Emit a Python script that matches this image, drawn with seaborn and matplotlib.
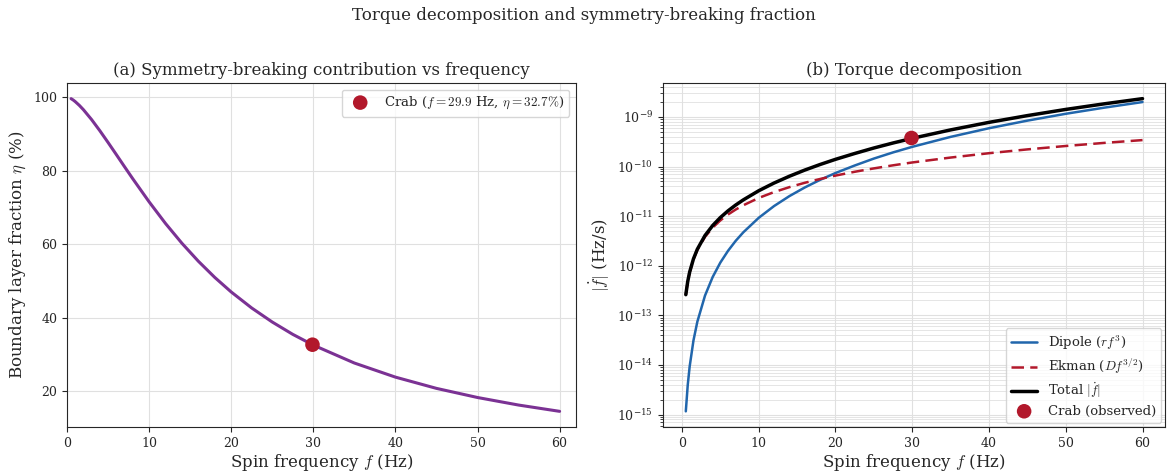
import seaborn as sns
import matplotlib
matplotlib.use('Agg')
import matplotlib.pyplot as plt
import numpy as np
import pandas as pd

sns.set_style('whitegrid', {'axes.edgecolor': '.15', 'xtick.bottom': True, 'ytick.left': True,
                            'grid.color': '.88'})
plt.rcParams['font.family'] = ['DejaVu Serif']
plt.rcParams['mathtext.fontset'] = 'cm'

# 读取图中的数值
freq = [0.5, 0.75, 1, 1.5, 2, 3, 4, 5, 6, 7, 8, 10, 12, 14, 16, 18, 20,
        22.5, 25, 27.5, 30, 35, 40, 45, 50, 55, 60]
eta = [99.56, 99.2, 98.76, 97.74, 96.56, 93.86, 90.85, 87.66, 84.39, 81.09, 77.83,
       71.53, 65.64, 60.26, 55.38, 50.98, 47.03, 42.67, 38.86, 35.51, 32.59,
       27.72, 23.89, 20.83, 18.35, 16.30, 14.59]
dipole = [1.16e-15, 3.91e-15, 9.26e-15, 3.13e-14, 7.41e-14, 2.50e-13, 5.93e-13, 1.16e-12,
          2.00e-12, 3.18e-12, 4.74e-12, 9.26e-12, 1.60e-11, 2.54e-11, 3.79e-11, 5.40e-11,
          7.41e-11, 1.05e-10, 1.45e-10, 1.93e-10, 2.50e-10, 3.97e-10, 5.93e-10, 8.44e-10,
          1.16e-9, 1.54e-9, 2.00e-9]
ekman = [2.60e-13, 4.78e-13, 7.36e-13, 1.35e-12, 2.08e-12, 3.82e-12, 5.88e-12, 8.22e-12,
         1.08e-11, 1.36e-11, 1.66e-11, 2.33e-11, 3.06e-11, 3.85e-11, 4.71e-11, 5.62e-11,
         6.58e-11, 7.85e-11, 9.19e-11, 1.06e-10, 1.21e-10, 1.52e-10, 1.86e-10, 2.22e-10,
         2.60e-10, 3.00e-10, 3.42e-10]
crab_f = 29.9
crab_eta = 32.7
crab_fdot = 3.77e-10

df = pd.DataFrame({'f': freq, 'eta': eta, 'dipole': dipole, 'ekman': ekman})
df['total'] = df['dipole'] + df['ekman']

fig, axes = plt.subplots(1, 2, figsize=(11.67, 4.73), dpi=100)
axes[0].set_position([0.0574, 0.0973, 0.4362, 0.7272])
axes[1].set_position([0.5681, 0.0973, 0.4305, 0.7272])
fig.suptitle('Torque decomposition and symmetry-breaking fraction', fontsize=12, y=0.985)

# (a)
ax = axes[0]
sns.lineplot(data=df, x='f', y='eta', color='#7B3294', linewidth=2.2, ax=ax)
sns.scatterplot(x=[crab_f], y=[crab_eta], color='#B2182B', s=110, zorder=5, edgecolor='none', ax=ax,
                label=r'Crab ($f = 29.9$ Hz, $\eta = 32.7\%$)')
ax.set_xlim(0, 62)
ax.set_xlabel(r'Spin frequency $f$ (Hz)', fontsize=12, labelpad=1.5)
ax.set_ylabel(r'Boundary layer fraction $\eta$ (%)', fontsize=12)
ax.set_title('(a) Symmetry-breaking contribution vs frequency', fontsize=12)
ax.legend(loc='upper right', fontsize=9.5)

# (b)
ax = axes[1]
sns.lineplot(data=df, x='f', y='dipole', color='#2166AC', linewidth=1.8, ax=ax, label=r'Dipole ($rf^3$)')
sns.lineplot(data=df, x='f', y='ekman', color='#B2182B', linewidth=1.8, ax=ax, label=r'Ekman ($Df^{3/2}$)')
ax.lines[-1].set_linestyle((0, (5, 2.5)))
sns.lineplot(data=df, x='f', y='total', color='black', linewidth=2.5, ax=ax, label=r'Total $|\dot{f}|$')
sns.scatterplot(x=[crab_f], y=[crab_fdot], color='#B2182B', s=110, zorder=5, edgecolor='none', ax=ax,
                label='Crab (observed)')
ax.set_yscale('log')
ax.grid(True, which='minor', axis='y', color='.88', linewidth=0.6)
ax.tick_params(axis='y', which='minor', left=True, length=2)
ax.set_xlabel(r'Spin frequency $f$ (Hz)', fontsize=12, labelpad=1.5)
ax.set_ylabel(r'$|\dot{f}|$ (Hz/s)', fontsize=12)
ax.set_title('(b) Torque decomposition', fontsize=12)
ax.legend(loc='lower right', fontsize=9.5, labelspacing=0.35, borderaxespad=0.3)

for a in axes:
    a.tick_params(labelsize=9)

plt.savefig('out.png', dpi=100)
